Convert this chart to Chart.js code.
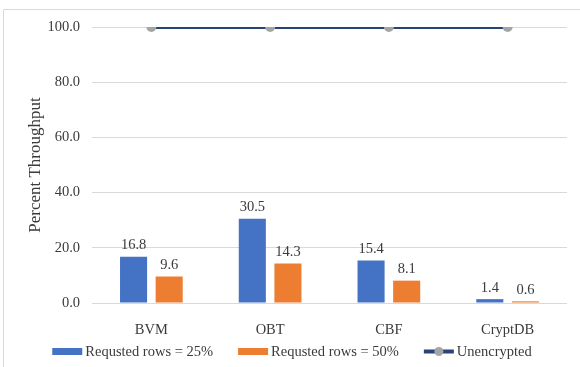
<!DOCTYPE html>
<html>
<head>
<meta charset="utf-8">
<script src="https://cdn.jsdelivr.net/npm/chart.js@4/dist/chart.umd.min.js"></script>
<style>
  html, body { margin: 0; padding: 0; background: #ffffff; }
  #wrap { width: 580px; height: 367px; position: relative; }
</style>
</head>
<body>
<div id="wrap"><canvas id="c" width="580" height="367"></canvas></div>
<script>
// Categories and series
const categories = ['BVM', 'OBT', 'CBF', 'CryptDB'];
const rows25 = [16.8, 30.5, 15.4, 1.4];
const rows50 = [9.6, 14.3, 8.1, 0.6];
const unencrypted = [100, 100, 100, 100];
const yTicks = [0, 20, 40, 60, 80, 100];

const seriesNames = ['Requsted rows = 25%', 'Requsted rows = 50%', 'Unencrypted'];
const BLUE = '#4472C4', ORANGE = '#ED7D31', NAVY = '#264478', GREY = '#A5A5A5';
const TEXT = '#3a3a3a';
const FONT = "'Liberation Serif', 'Times New Roman', serif";

Chart.defaults.font.family = FONT;
Chart.defaults.font.size = 14;
Chart.defaults.color = TEXT;

// Value labels above each bar
const barLabels = {
  id: 'barLabels',
  afterDatasetsDraw(chart) {
    const ctx = chart.ctx;
    ctx.save();
    ctx.font = '14.5px ' + FONT;
    ctx.fillStyle = TEXT;
    ctx.textAlign = 'center';
    ctx.textBaseline = 'bottom';
    chart.data.datasets.forEach((ds, i) => {
      if (ds.type !== 'bar') return;
      chart.getDatasetMeta(i).data.forEach((bar, j) => {
        ctx.fillText(ds.data[j].toFixed(1), bar.x, bar.y - 4);
      });
    });
    ctx.restore();
  }
};

// Frame lines and legend along the bottom
const frameAndLegend = {
  id: 'frameAndLegend',
  beforeDraw(chart) {
    const ctx = chart.ctx;
    ctx.save();
    ctx.strokeStyle = '#d9d9d9';
    ctx.lineWidth = 1;
    ctx.beginPath();
    ctx.moveTo(3.5, 367);
    ctx.lineTo(3.5, 9.5);
    ctx.lineTo(580, 9.5);
    ctx.stroke();
    ctx.restore();
  },
  afterDraw(chart) {
    const ctx = chart.ctx;
    ctx.save();
    ctx.font = '14.5px ' + FONT;
    ctx.textBaseline = 'middle';
    ctx.textAlign = 'left';
    const sym = 30, gapSym = 3, gapItem = 25;
    const widths = seriesNames.map(s => ctx.measureText(s).width);
    const total = widths.reduce((a, b) => a + b, 0) + 3 * (sym + gapSym) + 2 * gapItem;
    let x = 292 - total / 2;
    const y = 351;
    chart.data.datasets.forEach((ds, i) => {
      if (ds.type === 'bar') {
        ctx.fillStyle = ds.backgroundColor;
        ctx.fillRect(x, y - 3, sym, 7);
      } else {
        ctx.strokeStyle = ds.borderColor;
        ctx.lineWidth = 4;
        ctx.beginPath();
        ctx.moveTo(x, y + 0.5);
        ctx.lineTo(x + sym, y + 0.5);
        ctx.stroke();
        ctx.fillStyle = ds.pointBackgroundColor;
        ctx.beginPath();
        ctx.arc(x + sym / 2, y + 0.5, 4.5, 0, Math.PI * 2);
        ctx.fill();
      }
      ctx.fillStyle = TEXT;
      ctx.fillText(seriesNames[i], x + sym + gapSym, y + 1);
      x += sym + gapSym + widths[i] + gapItem;
    });
    ctx.restore();
  }
};

new Chart(document.getElementById('c'), {
  data: {
    labels: categories,
    datasets: [
      {
        type: 'bar', label: seriesNames[0], data: rows25,
        backgroundColor: BLUE, order: 2,
        categoryPercentage: 0.6, barPercentage: 0.76
      },
      {
        type: 'bar', label: seriesNames[1], data: rows50,
        backgroundColor: ORANGE, order: 2,
        categoryPercentage: 0.6, barPercentage: 0.76
      },
      {
        type: 'line', label: seriesNames[2], data: unencrypted,
        borderColor: NAVY, borderWidth: 4,
        pointBackgroundColor: GREY, pointBorderColor: GREY,
        pointRadius: 5, pointBorderWidth: 0, order: 1
      }
    ]
  },
  options: {
    responsive: false,
    animation: false,
    layout: { padding: { left: 4, right: 13, top: 27, bottom: 0 } },
    plugins: { legend: { display: false }, tooltip: { enabled: false } },
    scales: {
      x: {
        grid: { display: false },
        border: { display: false },
        ticks: { padding: 10, color: TEXT, font: { size: 14.5 } },
        afterFit(scale) { scale.height = 64; }
      },
      y: {
        min: 0, max: 100,
        afterBuildTicks(scale) { scale.ticks = yTicks.map(v => ({ value: v })); },
        grid: { color: '#d9d9d9', drawTicks: false, lineWidth: 1 },
        border: { display: false },
        ticks: { padding: 12, color: TEXT, font: { size: 14.5 }, callback: v => Number(v).toFixed(1) },
        title: {
          display: true, text: 'Percent Throughput', color: TEXT,
          font: { size: 17 }, padding: { top: 21, bottom: 0 }
        },
        afterFit(scale) { scale.width = 88; }
      }
    }
  },
  plugins: [barLabels, frameAndLegend]
});
</script>
</body>
</html>
